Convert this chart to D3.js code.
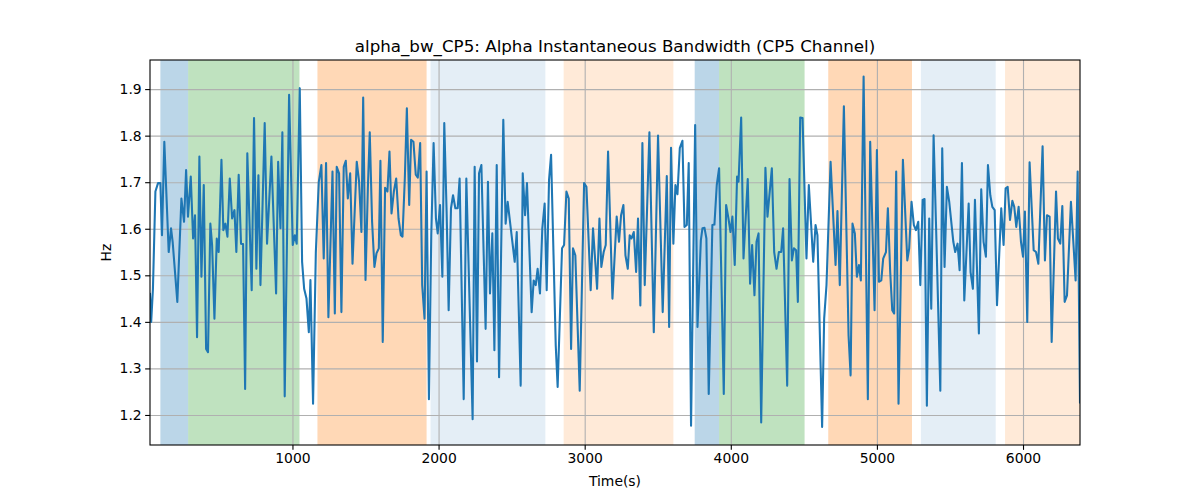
<!DOCTYPE html>
<html>
<head>
<meta charset="utf-8">
<script src="https://cdn.jsdelivr.net/npm/d3@7"></script>
<style>
  body { margin: 0; background: #fff; }
  svg { font-family: "DejaVu Sans", sans-serif; }
</style>
</head>
<body>
<svg id="chart" width="1200" height="500"></svg>
<script>
// alpha bandwidth trace for CP5
const times = [
  25, 33, 45, 62, 80, 96, 107, 123, 153, 169, 180, 212, 240, 258, 272, 285, 304, 320, 333, 347,
  363, 377, 393, 409, 422, 438, 450, 466, 482, 495, 514, 527, 541, 555, 571, 587, 603, 616, 632, 648,
  662, 676, 691, 721, 737, 753, 767, 781, 810, 826, 856, 888, 902, 918, 931, 947, 977, 1002, 1016, 1029,
  1050, 1066, 1080, 1096, 1112, 1123, 1141, 1160, 1180, 1198, 1214, 1230, 1246, 1274,
  1290, 1303, 1319, 1335, 1351, 1365, 1379, 1395, 1411, 1440, 1456, 1472, 1484, 1500, 1516, 1529, 1545, 1561, 1575, 1591,
  1602, 1618, 1634, 1650, 1664, 1678, 1694, 1710, 1726, 1742, 1753, 1769, 1783, 1799, 1812, 1828, 1844, 1858, 1874, 1888, 1904,
  1918, 1934, 1950, 1966, 1982, 1994, 2010, 2026, 2039, 2055, 2069, 2085, 2099, 2115, 2131, 2144, 2172, 2190, 2233, 2247,
  2263, 2277, 2293, 2322, 2338, 2352, 2368, 2382, 2398, 2414, 2443, 2459, 2473, 2505, 2521, 2535,
  2562, 2576, 2592, 2605, 2637, 2651, 2665, 2678, 2694, 2710, 2726, 2740, 2756, 2770, 2802, 2815, 2845, 2859, 2875, 2891,
  2907, 2920, 2936, 2966, 2996, 3012, 3041, 3057, 3085, 3101, 3114, 3130, 3144, 3160,
  3190, 3219, 3235, 3249, 3265, 3279, 3295, 3308, 3320, 3336, 3352, 3365, 3381, 3395, 3411, 3443, 3473, 3502, 3534, 3562,
  3578, 3591, 3607, 3621, 3635, 3651, 3669, 3683, 3699, 3712, 3728, 3756, 3772, 3795,
  3806, 3820, 3833, 3849, 3874, 3888, 3904, 3920, 3952, 3968, 3984, 3998, 4011, 4027, 4043, 4053, 4071, 4087, 4116, 4132,
  4146, 4162, 4176, 4190, 4208, 4237, 4251, 4281, 4297, 4313, 4329, 4345, 4358, 4386, 4402, 4418, 4432,
  4447, 4459, 4475, 4491, 4518, 4534, 4550, 4564, 4580, 4593, 4625, 4639, 4655, 4683, 4717, 4730, 4746, 4774, 4806, 4820,
  4833, 4849, 4863, 4877, 4890, 4909, 4938, 4954, 4984, 5000, 5014, 5030, 5043, 5062,
  5075, 5091, 5105, 5118, 5132, 5148, 5178, 5208, 5221, 5237, 5253, 5267, 5283, 5297, 5313, 5326, 5342, 5358, 5372, 5388,
  5404, 5434, 5447, 5463, 5479, 5495, 5523, 5536, 5552, 5566, 5582, 5598, 5628, 5641, 5657, 5671,
  5698, 5714, 5730, 5746, 5760, 5776, 5790, 5806, 5822, 5851, 5867, 5881, 5895, 5911, 5927, 5940, 5954, 5970, 5986, 6000,
  6013, 6029, 6045, 6073, 6089, 6105, 6134, 6150, 6164, 6182, 6196, 6226, 6239, 6255, 6269, 6285, 6301, 6328, 6360, 6374, 6390
];
const values = [
  1.46, 1.40, 1.47, 1.680, 1.698, 1.698, 1.586, 1.787, 1.550, 1.601, 1.572, 1.443, 1.665, 1.615, 1.726, 1.626, 1.712, 1.579, 1.629, 1.367,
  1.755, 1.497, 1.694, 1.342, 1.335, 1.611, 1.565, 1.407, 1.579, 1.550, 1.748, 1.597, 1.611, 1.583, 1.708, 1.622, 1.640, 1.550, 1.716, 1.568,
  1.567, 1.256, 1.762, 1.468, 1.838, 1.514, 1.715, 1.479, 1.827, 1.568, 1.755, 1.461, 1.744, 1.601, 1.807, 1.240, 1.888, 1.565, 1.586, 1.568,
  1.902, 1.529, 1.471, 1.450, 1.378, 1.490, 1.224, 1.55, 1.70, 1.737, 1.536, 1.741, 1.410, 1.723,
  1.418, 1.733, 1.719, 1.421, 1.733, 1.746, 1.665, 1.719, 1.525, 1.744, 1.701, 1.593, 1.882, 1.490, 1.687, 1.807, 1.615, 1.518, 1.547, 1.558,
  1.746, 1.357, 1.688, 1.680, 1.766, 1.633, 1.680, 1.708, 1.622, 1.586, 1.583, 1.708, 1.859, 1.651, 1.791, 1.787, 1.716, 1.710, 1.784, 1.479, 1.407,
  1.723, 1.234, 1.586, 1.784, 1.622, 1.590, 1.651, 1.497, 1.827, 1.637, 1.425, 1.644, 1.672, 1.644, 1.644, 1.708, 1.234, 1.708, 1.191, 1.733,
  1.315, 1.719, 1.737, 1.385, 1.701, 1.461, 1.590, 1.339, 1.737, 1.281, 1.834, 1.611, 1.658, 1.572, 1.529, 1.593,
  1.263, 1.719, 1.629, 1.698, 1.421, 1.489, 1.479, 1.514, 1.461, 1.601, 1.654, 1.468, 1.705, 1.759, 1.349, 1.260, 1.558, 1.565, 1.680, 1.665,
  1.342, 1.558, 1.543, 1.252, 1.698, 1.690, 1.468, 1.601, 1.471, 1.622, 1.518, 1.550, 1.565, 1.766,
  1.450, 1.626, 1.572, 1.629, 1.651, 1.543, 1.514, 1.586, 1.579, 1.593, 1.507, 1.622, 1.435, 1.784, 1.479, 1.807, 1.378, 1.800, 1.421, 1.713,
  1.389, 1.774, 1.568, 1.694, 1.674, 1.773, 1.789, 1.604, 1.608, 1.741, 1.177, 1.823, 1.389, 1.575,
  1.601, 1.602, 1.579, 1.245, 1.608, 1.609, 1.694, 1.730, 1.245, 1.651, 1.622, 1.593, 1.626, 1.522, 1.712, 1.701, 1.839, 1.536, 1.707, 1.482,
  1.565, 1.457, 1.572, 1.590, 1.184, 1.731, 1.626, 1.730, 1.550, 1.514, 1.550, 1.550, 1.601, 1.263, 1.707, 1.532, 1.558,
  1.554, 1.443, 1.839, 1.838, 1.536, 1.694, 1.608, 1.529, 1.608, 1.586, 1.174, 1.407, 1.479, 1.744, 1.522, 1.638, 1.479, 1.863, 1.371, 1.285,
  1.611, 1.590, 1.497, 1.522, 1.489, 1.927, 1.234, 1.787, 1.425, 1.769, 1.486, 1.489, 1.536, 1.550,
  1.644, 1.507, 1.425, 1.418, 1.723, 1.224, 1.748, 1.532, 1.558, 1.658, 1.608, 1.597, 1.615, 1.479, 1.662, 1.664, 1.220, 1.622, 1.428, 1.801,
  1.615, 1.252, 1.773, 1.518, 1.690, 1.658, 1.572, 1.550, 1.568, 1.511, 1.741, 1.446, 1.654, 1.507, 1.471, 1.662,
  1.375, 1.685, 1.572, 1.540, 1.737, 1.672, 1.647, 1.640, 1.436, 1.644, 1.565, 1.687, 1.690, 1.619, 1.660, 1.647, 1.604, 1.647, 1.572, 1.540,
  1.637, 1.400, 1.743, 1.554, 1.550, 1.525, 1.777, 1.532, 1.629, 1.626, 1.357, 1.680, 1.579, 1.568, 1.649, 1.443, 1.457, 1.658, 1.489, 1.723, 1.227
];

// shaded segments: start, end, colour, opacity
const bandStarts = [96, 286, 1171, 1945, 2856, 3753, 3920, 4667, 5301, 5877];
const bandEnds = [286, 1048, 1918, 2731, 3607, 3920, 4505, 5240, 5813, 6390];
const bandColors = ["#1f77b4", "#2ca02c", "#ff7f0e", "#1f77b4", "#ff7f0e", "#1f77b4", "#2ca02c", "#ff7f0e", "#1f77b4", "#ff7f0e"];
const bandAlphas = [0.3, 0.3, 0.3, 0.12, 0.16, 0.3, 0.3, 0.3, 0.12, 0.16];

const xTicks = [1000, 2000, 3000, 4000, 5000, 6000];
const yTicks = [1.2, 1.3, 1.4, 1.5, 1.6, 1.7, 1.8, 1.9];

const margin = { top: 60, right: 120, bottom: 55, left: 150 },
    width = 1200 - margin.left - margin.right,
    height = 500 - margin.top - margin.bottom;

const data = times.map((t, i) => ({ t: t, v: values[i] }));

let svg = d3.select("#chart"),
    g = svg.append("g").attr("transform", "translate(" + margin.left + "," + margin.top + ")");

let x = d3.scaleLinear()
    .domain(d3.extent(times))
    .range([0, width]);

let y = d3.scaleLinear()
    .domain([1.1355, 1.9625])
    .range([height, 0]);

g.append("defs").append("clipPath").attr("id", "clip")
    .append("rect").attr("width", width).attr("height", height);

// bands
g.selectAll(".band")
    .data(bandStarts)
    .enter()
    .append("rect")
    .attr("class", "band")
    .attr("x", (d, i) => x(d))
    .attr("y", 0)
    .attr("width", (d, i) => x(bandEnds[i]) - x(d))
    .attr("height", height)
    .style("fill", (d, i) => bandColors[i])
    .style("fill-opacity", (d, i) => bandAlphas[i]);

// grid
g.append("g")
    .attr("class", "grid")
    .attr("transform", "translate(0," + height + ")")
    .call(d3.axisBottom(x).tickValues(xTicks).tickSize(-height).tickFormat(""));

g.append("g")
    .attr("class", "grid")
    .call(d3.axisLeft(y).tickValues(yTicks).tickSize(-width).tickFormat(""));

g.selectAll(".grid .domain").remove();
g.selectAll(".grid line")
    .style("stroke", "#b0b0b0")
    .style("stroke-width", 1.1);

// line
g.append("path")
    .datum(data)
    .attr("clip-path", "url(#clip)")
    .attr("d", d3.line().x(d => x(d.t)).y(d => y(d.v)))
    .style("fill", "none")
    .style("stroke", "#1f77b4")
    .style("stroke-width", 2.08)
    .style("stroke-linejoin", "round")
    .style("stroke-linecap", "square");

// axes
let xAxis = g.append("g")
    .attr("class", "x axis")
    .attr("transform", "translate(0," + height + ")")
    .call(d3.axisBottom(x).tickValues(xTicks).tickSize(4.86).tickSizeOuter(0).tickPadding(3.5).tickFormat(d3.format("d")));

let yAxis = g.append("g")
    .attr("class", "y axis")
    .call(d3.axisLeft(y).tickValues(yTicks).tickSize(4.86).tickSizeOuter(0).tickPadding(3.5).tickFormat(d3.format(".1f")));

svg.selectAll(".axis .domain").remove();
svg.selectAll(".axis line").style("stroke", "#000").style("stroke-width", 1.1);
svg.selectAll(".axis text")
    .style("font-family", "DejaVu Sans")
    .style("font-size", "13.9px")
    .style("fill", "#000");

// frame
g.append("rect")
    .attr("width", width)
    .attr("height", height)
    .style("fill", "none")
    .style("stroke", "#000")
    .style("stroke-width", 1.1);

// labels
svg.append("text")
    .attr("x", margin.left + width / 2)
    .attr("y", 52)
    .attr("text-anchor", "middle")
    .style("font-size", "16.7px")
    .text("alpha_bw_CP5: Alpha Instantaneous Bandwidth (CP5 Channel)");

svg.append("text")
    .attr("x", margin.left + width / 2)
    .attr("y", 486)
    .attr("text-anchor", "middle")
    .style("font-size", "13.9px")
    .text("Time(s)");

svg.append("text")
    .attr("transform", "translate(111," + (margin.top + height / 2) + ") rotate(-90)")
    .attr("text-anchor", "middle")
    .style("font-size", "13.9px")
    .text("Hz");
</script>
</body>
</html>
